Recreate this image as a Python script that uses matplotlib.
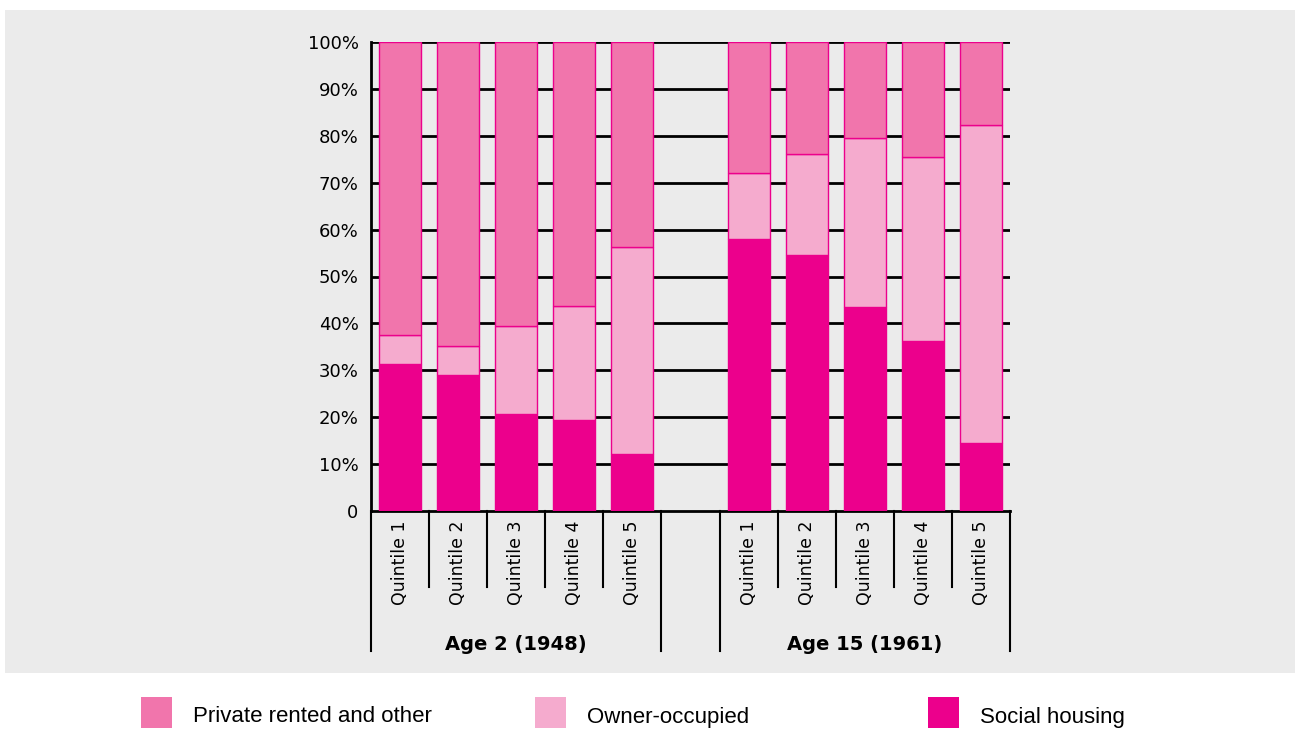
import matplotlib
matplotlib.use("Agg")
import matplotlib.pyplot as plt
from matplotlib.patches import Rectangle
import matplotlib.transforms as mtransforms

# shares (%), order: Age 2 Q1..Q5, Age 15 Q1..Q5
groups = ["Age 2 (1948)", "Age 15 (1961)"]
quintiles = ["Quintile 1", "Quintile 2", "Quintile 3", "Quintile 4", "Quintile 5"]
social = [31.3, 29.0, 20.7, 19.4, 12.2, 58.0, 54.6, 43.4, 36.2, 14.5]
owner = [6.2, 6.2, 18.7, 24.3, 44.1, 14.0, 21.5, 36.2, 39.3, 67.9]
private = [62.5, 64.8, 60.6, 56.3, 43.7, 28.0, 23.9, 20.4, 24.5, 17.6]
yticks = [0, 10, 20, 30, 40, 50, 60, 70, 80, 90, 100]
ylabels = ["0"] + [f"{v}%" for v in yticks[1:]]

series_names = ["Private rented and other", "Owner-occupied", "Social housing"]
c_private = "#F175AC"
c_owner = "#F5ABCE"
c_social = "#EC008C"

W, H = 1301, 731
fig = plt.figure(figsize=(W / 100, H / 100), dpi=100)
fig.patch.set_facecolor("white")
fig.patches.append(Rectangle((5 / W, 1 - 673 / H), 1290 / W, 663 / H,
                             transform=fig.transFigure, facecolor="#EBEBEB",
                             edgecolor="none", zorder=-5))

ax = fig.add_axes([371 / W, 1 - 511 / H, 639 / W, 469 / H])
ax.set_facecolor("none")
ax.set_zorder(2)

# slot positions: 5 bars, an empty slot, 5 bars
xpos = [0.5, 1.5, 2.5, 3.5, 4.5, 6.5, 7.5, 8.5, 9.5, 10.5]
bw = 0.72
bottom2 = [s + o for s, o in zip(social, owner)]
ax.bar(xpos, social, bw, color=c_social, edgecolor=c_social, linewidth=1, zorder=3)
ax.bar(xpos, owner, bw, bottom=social, color=c_owner, edgecolor=c_social, linewidth=1, zorder=3)
ax.bar(xpos, private, bw, bottom=bottom2, color=c_private, edgecolor=c_social, linewidth=1, zorder=3)

for y in yticks[1:]:
    ax.axhline(y, color="black", linewidth=2, zorder=1)

ax.set_xlim(0, 11)
ax.set_ylim(0, 100)
ax.set_yticks(yticks)
ax.set_yticklabels(ylabels, fontsize=13)
for lab in ax.get_yticklabels():
    lab.set_verticalalignment("center_baseline")
ax.tick_params(axis="y", length=0, pad=9)
ax.set_xticks([])
for s in ["top", "right"]:
    ax.spines[s].set_visible(False)
ax.spines["left"].set_linewidth(2)
ax.spines["bottom"].set_linewidth(2)

# category separators below the axis
trans = mtransforms.blended_transform_factory(ax.transData, ax.transAxes)
short_y = -(587 - 511) / 469
long_y = -(651 - 511) / 469
for x in [1, 2, 3, 4, 7, 8, 9, 10]:
    ax.plot([x, x], [0, short_y], color="black", linewidth=1.5, transform=trans, clip_on=False)
for x in [0, 5, 6, 11]:
    ax.plot([x, x], [0, long_y], color="black", linewidth=1.5, transform=trans, clip_on=False)

for i, x in enumerate(xpos):
    ax.text(x, -0.02, quintiles[i % 5], rotation=90, ha="center", va="top",
            fontsize=12.5, transform=trans)

ax.text(2.5, -(645 - 511) / 469, groups[0], ha="center", va="center",
        fontsize=14, fontweight="bold", transform=trans)
ax.text(8.5, -(645 - 511) / 469, groups[1], ha="center", va="center",
        fontsize=14, fontweight="bold", transform=trans)

# legend drawn by hand under the grey panel
leg_fam = ["Liberation Sans Narrow", "Liberation Sans", "DejaVu Sans"]
leg_x = [141, 535, 928]
leg_c = [c_private, c_owner, c_social]
for lx, name, col in zip(leg_x, series_names, leg_c):
    fig.patches.append(Rectangle((lx / W, 1 - 728 / H), 31 / W, 31 / H,
                                 transform=fig.transFigure, facecolor=col,
                                 edgecolor="none"))
    fig.text((lx + 52) / W, 1 - 717 / H, name, ha="left", va="center",
             fontsize=16, family=leg_fam)

fig.savefig("out.png", dpi=100)
